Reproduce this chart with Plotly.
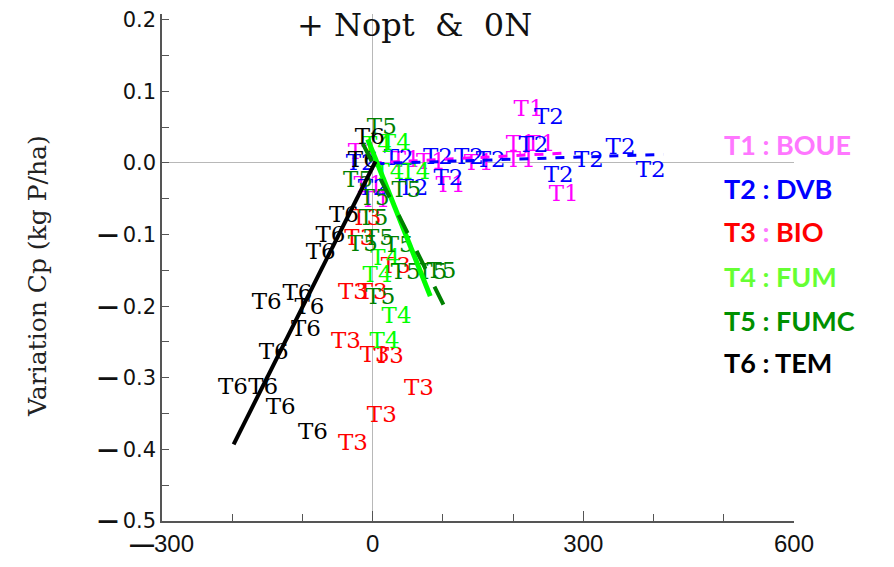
import plotly.graph_objects as go

# ---------------- data ----------------
t1_x = [222, 211, 239, 272, 211, 111, 151, -14, -6, 47, 4, 83]
t1_y = [0.074, 0.025, 0.025, -0.045, 0.002, -0.033, -0.002, 0.013, -0.033, 0.002, -0.054, -0.001]

t2_x = [251, 229, 353, 308, 265, 396, 108, 37, 93, 137, 168, 58, -17, 0]
t2_y = [0.063, 0.024, 0.020, 0.002, -0.019, -0.011, -0.023, 0.005, 0.006, 0.006, 0.003, -0.037, -0.002, -0.037]

t3_x = [-28, 13, 66, -38, 3, 23, -28, 0, 33, -19, -9]
t3_y = [-0.393, -0.354, -0.316, -0.251, -0.270, -0.272, -0.182, -0.182, -0.145, -0.106, -0.078]

t4_x = [33, 24, 61, 7, 18, 34, 17, 6]
t4_y = [0.026, -0.015, -0.015, -0.158, -0.135, -0.216, -0.251, 0.023]

t5_x = [13, -21, 3, 48, 1, -14, 9, 37, 47, 85, 98, 11]
t5_y = [0.048, -0.026, -0.050, -0.040, -0.078, -0.115, -0.107, -0.117, -0.154, -0.154, -0.153, -0.189]

t6_x = [-151, -107, -90, -95, -141, -199, -156, -131, -85, -4, -41, -60, -74, -14]
t6_y = [-0.196, -0.184, -0.203, -0.234, -0.266, -0.315, -0.315, -0.342, -0.377, 0.034, -0.075, -0.103, -0.126, 0.002]

# trend lines (end points)
fit1_x, fit1_y = [0, 277], [0.000, 0.014]
fit2_x, fit2_y = [4, 414], [-0.001, 0.012]
fit4_x, fit4_y = [-7, 82], [0.033, -0.186]
fit5_x, fit5_y = [-14, 107], [0.027, -0.210]
fit6_x, fit6_y = [-198, 4], [-0.393, 0.002]

labels = ["T1", "T2", "T3", "T4", "T5", "T6"]
legend_names = ["BOUE", "DVB", "BIO", "FUM", "FUMC", "TEM"]

y_ticks = [0.2, 0.1, 0.0, -0.1, -0.2, -0.3, -0.4, -0.5]
x_ticks = [-300, 0, 300, 600]

# ---------------- styles ----------------
mark_colors = ["#FF00FF", "#0000FF", "#FF0000", "#00FF00", "#008000", "#000000"]
legend_colors = ["#FF77FF", "#0000FF", "#FF0000", "#66FF33", "#009000", "#000000"]

fig = go.Figure()

series = [(t1_x, t1_y), (t2_x, t2_y), (t3_x, t3_y), (t4_x, t4_y), (t5_x, t5_y), (t6_x, t6_y)]

fits = [
    (fit1_x, fit1_y, mark_colors[0], 3, "dash"),
    (fit2_x, fit2_y, mark_colors[1], 3, "dash"),
    (fit4_x, fit4_y, mark_colors[3], 5, "solid"),
    (fit5_x, fit5_y, mark_colors[4], 4, "longdash"),
    (fit6_x, fit6_y, mark_colors[5], 4, "solid"),
]

for (xs, ys), lab, col in zip(series, labels, mark_colors):
    fig.add_trace(go.Scatter(
        x=xs, y=ys, mode="text", text=[lab] * len(xs),
        textposition="middle center",
        textfont=dict(family="DejaVu Serif", size=23, color=col),
        showlegend=False, hoverinfo="skip"))

for fx, fy, col, w, dash in fits:
    fig.add_trace(go.Scatter(x=fx, y=fy, mode="lines",
                             line=dict(color=col, width=w, dash=dash),
                             showlegend=False, hoverinfo="skip"))

def tick_txt(v, fmt):
    s = fmt.format(abs(v))
    return ("<b>\u2014</b>\u2009" + s) if v < 0 else s

TOP, H = 8, 513

def py2paper(py):
    return 1 - (py - TOP) / H

fig.update_layout(
    width=894, height=567,
    margin=dict(l=162, r=100, t=TOP, b=567 - TOP - H),
    plot_bgcolor="white", paper_bgcolor="white",
    xaxis=dict(range=[-300, 600], showgrid=False, zeroline=True,
               zerolinecolor="#B8B8B8", zerolinewidth=1,
               showline=True, linecolor="#555555", linewidth=1.5,
               ticks="inside", ticklen=10, tickcolor="#555555",
               tickvals=x_ticks, ticktext=[tick_txt(v, "{:.0f}").replace("\u2009", "") for v in x_ticks],
               minor=dict(dtick=100, ticks="inside", ticklen=7, tickcolor="#555555"),
               tickfont=dict(family="Liberation Sans Narrow, Arial Narrow, sans-serif", size=24, color="#111111")),
    yaxis=dict(range=[-0.5, 0.208], showgrid=False, zeroline=True,
               zerolinecolor="#B8B8B8", zerolinewidth=1,
               showline=True, linecolor="#555555", linewidth=1.5,
               ticks="inside", ticklen=7, tickcolor="#555555",
               tickvals=y_ticks, ticktext=[tick_txt(v, "{:.1f}") for v in y_ticks],
               minor=dict(dtick=0.05, ticks="inside", ticklen=7, tickcolor="#555555"),
               tickfont=dict(family="DejaVu Sans", size=21, color="#111111")),
)

# title and axis title
fig.add_annotation(x=(414 - 162) / 632, y=py2paper(19), xref="paper", yref="paper",
                   text="+ Nopt  &amp;  0N", showarrow=False,
                   font=dict(family="DejaVu Serif", size=32, color="#111111"),
                   xanchor="center", yanchor="middle")
fig.add_annotation(x=(38 - 162) / 632, y=py2paper(273), xref="paper", yref="paper",
                   text="Variation Cp (kg P/ha)", showarrow=False, textangle=-90,
                   font=dict(family="DejaVu Serif", size=25, color="#222222"),
                   xanchor="center", yanchor="middle")

# legend as text
legend_py = [140, 185, 228, 274, 318, 361]
for i, (lab, name, col, py) in enumerate(zip(labels, legend_names, legend_colors, legend_py)):
    colon_col = legend_colors[0] if lab == "T3" else col
    txt = (f"<span style='color:{col}'><b>{lab} </b></span>"
           f"<span style='color:{colon_col}'><b>:</b></span>"
           f"<span style='color:{col}'><b> {name}</b></span>")
    fig.add_annotation(x=(722 - 162) / 632, y=py2paper(py), xref="paper", yref="paper",
                       text=txt, showarrow=False, xanchor="left", yanchor="middle",
                       font=dict(family="Lato, Open Sans, sans-serif", size=27, color=col))

fig.write_html("out.html")
